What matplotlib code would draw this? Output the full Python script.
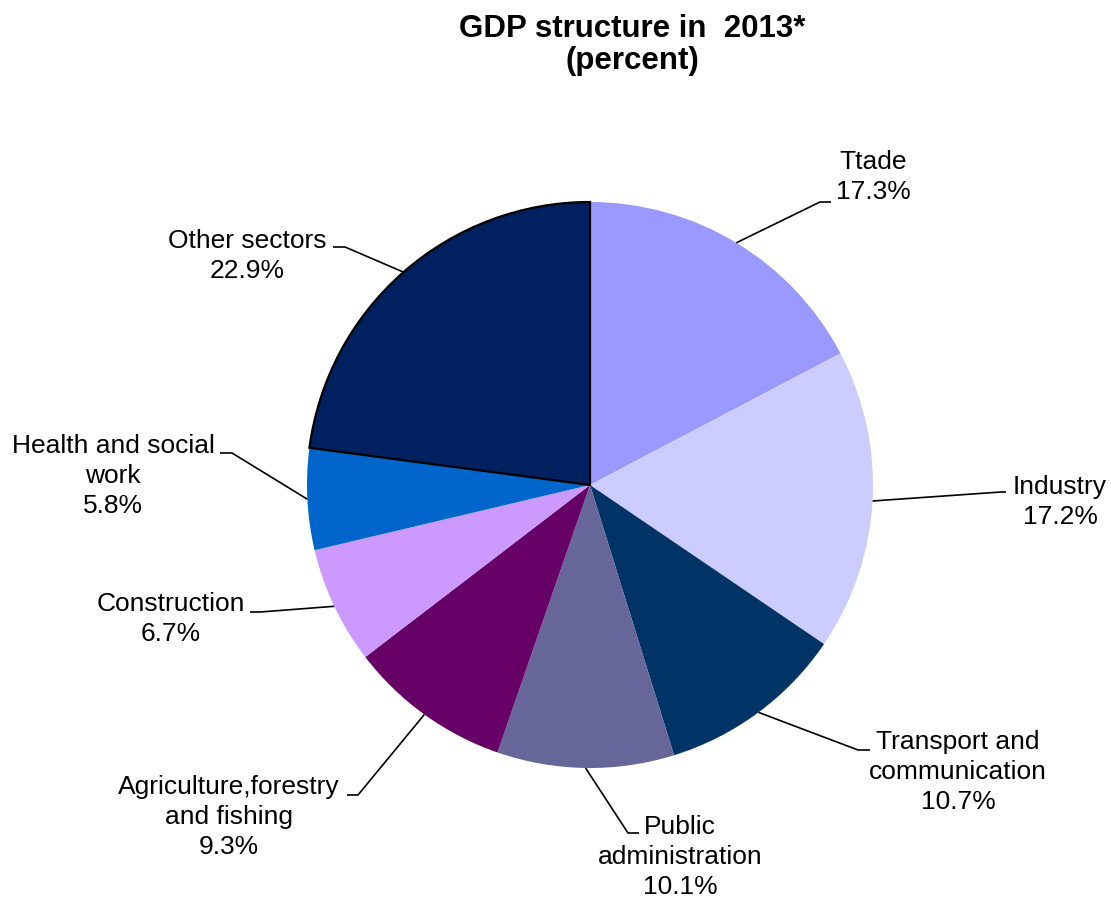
import numpy as np
import matplotlib.pyplot as plt

plt.rcParams['font.family'] = ['Liberation Sans', 'DejaVu Sans']

sectors = ['Ttade', 'Industry', 'Transport and\ncommunication', 'Public\nadministration',
           'Agriculture,forestry\nand fishing', 'Construction', 'Health and social\nwork',
           'Other sectors']
shares = [17.3, 17.2, 10.7, 10.1, 9.3, 6.7, 5.8, 22.9]
colors = ['#9999FF', '#CCCCFF', '#003366', '#666699', '#660066', '#CC99FF', '#0066CC', '#00205F']

W, H = 1111, 899
fig = plt.figure(figsize=(W / 100, H / 100), dpi=100)
ax = fig.add_axes([0, 0, 1, 1])

# pie laid out in pixel units (y up)
cx, cy, r = 590, H - 485, 283
wedges, _ = ax.pie(shares, colors=colors, startangle=90, counterclock=False,
                   center=(cx, cy), radius=r, frame=True,
                   wedgeprops=dict(linewidth=0))
wedges[-1].set_edgecolor('black')
wedges[-1].set_linewidth(1.6)

# label boxes: (elbow x, elbow y, end x, text x, text y), in px from top-left
label_pos = [
    (820, 202, 831, 873, 177),
    (1001, 492, 1006, 1060, 502),
    (858, 750, 870, 958, 772),
    (628, 833, 639, 680, 857),
    (358, 795, 347, 229, 817),
    (260, 612, 250, 171, 619),
    (232, 453, 220, 113, 476),
    (345, 247, 333, 247, 256),
]

for w, name, val, (ex, ey, hx, tx, ty) in zip(wedges, sectors, shares, label_pos):
    mid = np.deg2rad((w.theta1 + w.theta2) / 2)
    px, py = cx + r * np.cos(mid), cy + r * np.sin(mid)
    ax.plot([px, ex, hx], [py, H - ey, H - ey], color='black', lw=1.2,
            solid_capstyle='butt', zorder=3)
    ax.text(tx, H - ty, f'{name}\n{val:.1f}%', ha='center', va='center',
            multialignment='center', fontsize=19, linespacing=1.31)

ax.text(632, H - 45, 'GDP structure in  2013*\n(percent)', ha='center', va='center',
        fontsize=22.5, fontweight='bold', linespacing=1.07)

ax.set_xlim(0, W)
ax.set_ylim(0, H)
ax.set_aspect('equal')
ax.axis('off')

fig.savefig('out.png', dpi=100)
